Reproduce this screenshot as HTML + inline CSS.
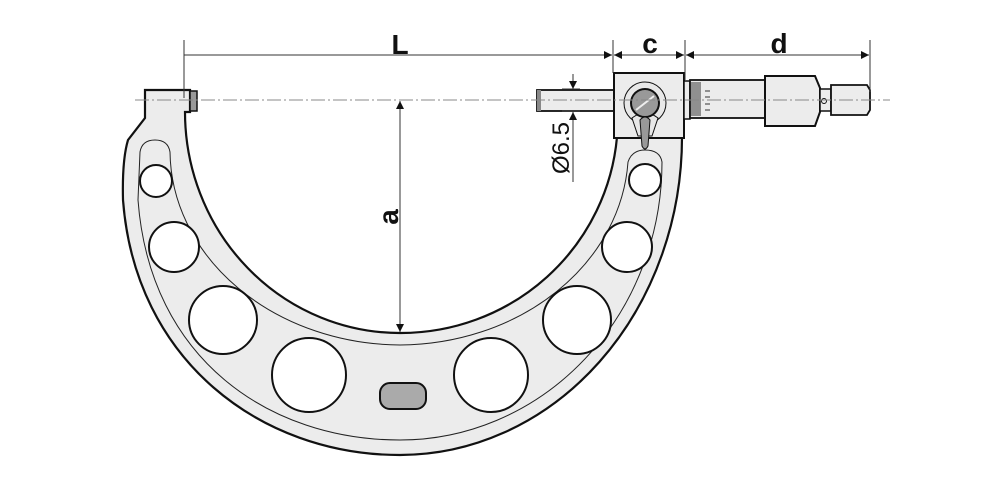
<!DOCTYPE html>
<html><head><meta charset="utf-8"><style>
html,body{margin:0;padding:0;background:#fff;}
svg{display:block;}
text{font-family:"Liberation Sans",sans-serif;font-weight:bold;fill:#111;}
</style></head><body>
<svg width="1000" height="500" viewBox="0 0 1000 500" xmlns="http://www.w3.org/2000/svg">
<defs>
<marker id="ar" viewBox="0 0 10 10" refX="10" refY="5" markerWidth="10" markerHeight="8" orient="auto-start-reverse" markerUnits="userSpaceOnUse"><path d="M0,0 L10,5 L0,10 z" fill="#111"/></marker>
</defs>
<!-- frame -->
<path d="M145,90 L190,90 L190,112 L185,112 A215 221 0 0 0 400 333 A217 215 0 0 0 617 137 L682 137 A282 318 0 0 1 400 455 C260 455 135 360 123 200 Q122 160 128 140 L145 118 Z" fill="#ececec" stroke="#111" stroke-width="2.2"/>
<!-- band lines -->
<path d="M140,152 Q142,140 155,140 Q168,140 170,152 A232 195 0 0 0 400 345 A230 195 0 0 0 628 162 Q632,150 645,150 Q660,150 662,162 A262 278 0 0 1 400 440 C270 440 150 360 138 200 Z" fill="none" stroke="#222" stroke-width="1"/>
<!-- holes -->
<g fill="#fff" stroke="#111" stroke-width="2">
<circle cx="156" cy="181" r="16"/>
<circle cx="174" cy="247" r="25"/>
<circle cx="223" cy="320" r="34"/>
<circle cx="309" cy="375" r="37"/>
<circle cx="491" cy="375" r="37"/>
<circle cx="577" cy="320" r="34"/>
<circle cx="627" cy="247" r="25"/>
<circle cx="645" cy="180" r="16"/>
</g>
<rect x="380" y="383" width="46" height="26" rx="10" fill="#aaa" stroke="#111" stroke-width="2"/>
<!-- anvil face -->
<rect x="190" y="91" width="7" height="20" fill="#999" stroke="#111" stroke-width="1.5"/>
<!-- spindle -->
<rect x="537" y="90" width="78" height="21" fill="#ececec" stroke="#111" stroke-width="1.8"/>
<rect x="537" y="90" width="4" height="21" fill="#888"/>
<!-- head -->
<rect x="614" y="73" width="70" height="65" fill="#ececec" stroke="#111" stroke-width="2"/>
<circle cx="645" cy="103" r="21" fill="#e8e8e8" stroke="#111" stroke-width="1"/>
<path d="M632,118 Q645,108 658,118 L652,136 L638,136 Z" fill="#e8e8e8" stroke="#111" stroke-width="1"/>
<circle cx="645" cy="103" r="14" fill="#999" stroke="#111" stroke-width="2"/>
<line x1="636" y1="110" x2="654" y2="96" stroke="#eee" stroke-width="2"/>
<path d="M640,120 Q645,114 650,120 L648,146 Q645,152 642,146 Z" fill="#999" stroke="#111" stroke-width="1"/>
<!-- barrel & thimble -->
<rect x="684" y="81" width="6" height="38" fill="#ececec" stroke="#111" stroke-width="1.5"/>
<rect x="690" y="80" width="75" height="38" fill="#ececec" stroke="#111" stroke-width="1.8"/>
<g stroke="#333" stroke-width="1">
<line x1="692" y1="82" x2="692" y2="116"/><line x1="694" y1="82" x2="694" y2="116"/><line x1="696" y1="82" x2="696" y2="116"/><line x1="698" y1="82" x2="698" y2="116"/><line x1="700" y1="82" x2="700" y2="116"/>
<line x1="705" y1="91" x2="710" y2="91"/><line x1="705" y1="97" x2="710" y2="97"/><line x1="705" y1="104" x2="710" y2="104"/><line x1="705" y1="110" x2="710" y2="110"/>
</g>
<path d="M765,76 L815,76 L820,88 L820,112 L815,126 L765,126 Z" fill="#ececec" stroke="#111" stroke-width="2"/>
<rect x="820" y="89" width="11" height="22" fill="#ececec" stroke="#111" stroke-width="1.5"/>
<circle cx="824" cy="101" r="2.5" fill="none" stroke="#111"/>
<path d="M831,85 L867,85 L870,90 L870,110 L867,115 L831,115 Z" fill="#ececec" stroke="#111" stroke-width="1.8"/>
<!-- centerline -->
<line x1="135" y1="100" x2="890" y2="100" stroke="#888" stroke-width="1" stroke-dasharray="14,3,2,3"/>
<!-- dimensions -->
<g stroke="#333" stroke-width="1">
<line x1="184" y1="40" x2="184" y2="98"/>
<line x1="613" y1="40" x2="613" y2="73"/>
<line x1="685" y1="40" x2="685" y2="80"/>
<line x1="870" y1="40" x2="870" y2="92"/>
<line x1="184" y1="55" x2="612" y2="55" marker-end="url(#ar)"/>
<line x1="614" y1="55" x2="684" y2="55" marker-start="url(#ar)" marker-end="url(#ar)"/>
<line x1="686" y1="55" x2="869" y2="55" marker-start="url(#ar)" marker-end="url(#ar)"/>
<line x1="400" y1="101" x2="400" y2="332" marker-start="url(#ar)" marker-end="url(#ar)"/>
<line x1="573" y1="74" x2="573" y2="89" marker-end="url(#ar)"/>
<line x1="573" y1="182" x2="573" y2="112" marker-end="url(#ar)"/>
<line x1="562" y1="89" x2="580" y2="89"/><line x1="562" y1="111" x2="580" y2="111"/>
</g>
<text x="400" y="54" font-size="28" text-anchor="middle">L</text>
<text x="650" y="53" font-size="28" text-anchor="middle">c</text>
<text x="779" y="53" font-size="28" text-anchor="middle">d</text>
<text transform="translate(398,217) rotate(-90)" font-size="28" text-anchor="middle">a</text>
<text transform="translate(569,148) rotate(-90)" font-size="24" text-anchor="middle" style="font-weight:normal">Ø6.5</text>
</svg>
</body></html>
